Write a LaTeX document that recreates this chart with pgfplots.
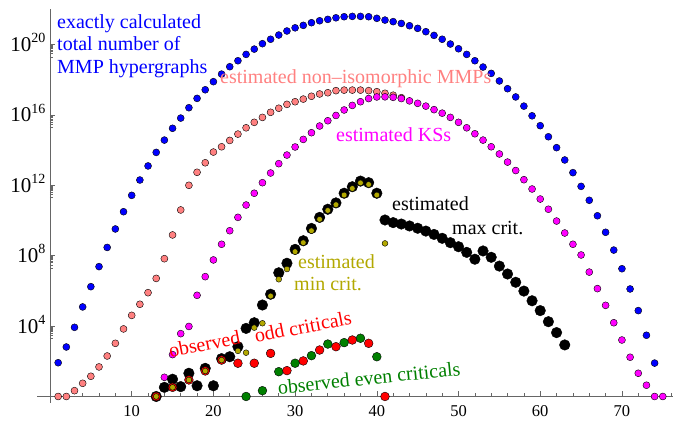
\documentclass[border=0pt]{standalone}
\usepackage{fontspec}
\setmainfont{Liberation Serif}
\usepackage{pgfplots}
\pgfplotsset{compat=1.18}
\definecolor{salmonc}{rgb}{1,0.5,0.5}
\definecolor{magc}{rgb}{1,0,1}
\definecolor{olivec}{rgb}{0.7,0.66,0}
\definecolor{greenc}{rgb}{0,0.5,0}
\definecolor{axgray}{gray}{0.4}
\newcommand{\tl}[1]{10\raisebox{0.42em}{\fontsize{14}{14}\selectfont #1}}
\begin{document}
\begin{tikzpicture}
\begin{axis}[
  at={(37pt,22pt)}, anchor=south west,
  scale only axis, width=636pt, height=394pt,
  xmin=-1.59, xmax=76.25, ymin=0.4266, ymax=1.047e22,
  ymode=log,
  axis lines=middle,
  axis line style={-, draw=axgray, line width=0.8pt},
  xtick={10,20,30,40,50,60,70},
  xticklabels={10,20,30,40,50,60,70},
  minor xtick={2,4,...,76},
  ytick={1e4,1e8,1e12,1e16,1e20},
  yticklabels={\tl{4},\tl{8},\tl{12},\tl{16},\tl{20}},
  minor ytick={2e3,3e3,4e3,5e3,6e3,7e3,8e3,9e3,2e7,3e7,4e7,5e7,6e7,7e7,8e7,9e7,2e11,3e11,4e11,5e11,6e11,7e11,8e11,9e11,2e15,3e15,4e15,5e15,6e15,7e15,8e15,9e15,2e19,3e19,4e19,5e19,6e19,7e19,8e19,9e19},
  tick align=inside,
  major tick length=5pt, minor tick length=3pt,
  tick style={draw=axgray, line width=0.6pt},
  xticklabel style={font=\fontsize{16.5}{18}\selectfont, yshift=-6pt},
  yticklabel style={font=\fontsize{21}{22}\selectfont, anchor=base east, yshift=-7pt, xshift=-1pt},
  clip=false,
]
% exactly calculated total number of MMP hypergraphs
\addplot[only marks, mark=*, mark size=3.5pt, mark options={fill=blue, draw=none}] coordinates {
(1,8.3e1) (2,6.5e2) (3,8.5e3) (4,1.23e5) (5,1.74e6) (6,2.4e7) (7,2.95e8) (8,3.31e9) (9,3.16e10) (10,2.69e11)
(11,2.0e12) (12,1.26e13) (13,7.41e13) (14,3.72e14) (15,1.74e15) (16,6.61e15) (17,2.57e16) (18,8.71e16) (19,2.69e17) (20,7.76e17)
(21,2.09e18) (22,5.5e18) (23,1.2e19) (24,2.75e19) (25,5.5e19) (26,1.12e20) (27,2.0e20) (28,3.47e20) (29,5.89e20) (30,8.91e20)
(31,1.23e21) (32,1.74e21) (33,2.24e21) (34,2.69e21) (35,3.31e21) (36,3.8e21) (37,3.98e21) (38,3.98e21) (39,3.8e21) (40,3.09e21)
(41,2.45e21) (42,2.0e21) (43,1.58e21) (44,1.17e21) (45,8.32e20) (46,5.37e20) (47,3.31e20) (48,2.0e20) (49,1.07e20) (50,5.75e19)
(51,2.75e19) (52,1.2e19) (53,5.25e18) (54,2.29e18) (55,8.51e17) (56,3.09e17) (57,1.05e17) (58,3.16e16) (59,8.91e15) (60,2.45e15)
(61,5.75e14) (62,1.38e14) (63,2.75e13) (64,5.25e12) (65,8.71e11) (66,1.41e11) (67,1.86e10) (68,2.14e9) (69,2.09e8) (70,1.82e7)
(71,1.29e6) (72,7.59e4) (73,3.02e3) (74,7.9e1)
};
% estimated non-isomorphic MMPs
\addplot[only marks, mark=*, mark size=3.5pt, mark options={fill=salmonc, draw=none}] coordinates {
(1,1) (2,1) (3,2.14) (4,5.62) (5,1.41e1) (6,4.79e1) (7,2.0e2) (8,1.05e3) (9,6.92e3) (10,4.07e4)
(11,1.74e5) (12,7.94e5) (13,5.13e6) (14,6.76e7) (15,1.51e9) (16,3.98e10) (17,1.0e12) (18,5.5e12) (19,1.91e13) (20,7.76e13)
(21,1.55e14) (22,3.55e14) (23,8.13e14) (24,1.86e15) (25,3.8e15) (26,7.24e15) (27,1.41e16) (28,2.4e16) (29,3.98e16) (30,5.62e16)
(31,7.94e16) (32,1.15e17) (33,1.55e17) (34,1.82e17) (35,2.4e17) (36,2.57e17) (37,2.57e17) (38,2.57e17) (39,2.4e17) (40,2.09e17)
(41,1.7e17) (42,1.32e17) (43,9.55e16)
};
% estimated KSs
\addplot[only marks, mark=*, mark size=3.5pt, mark options={fill=magc, draw=none}] coordinates {
(14,1.23e1) (15,2.4e2) (16,3.72e3) (17,9.55e3) (18,5.62e5) (19,6.46e6) (20,5.75e7)
(21,4.47e8) (22,2.63e9) (23,1.51e10) (24,7.59e10) (25,3.55e11) (26,1.41e12) (27,5.01e12) (28,1.7e13) (29,5.25e13) (30,1.51e14)
(31,4.07e14) (32,9.77e14) (33,2.34e15) (34,4.68e15) (35,9.33e15) (36,1.91e16) (37,3.47e16) (38,5.62e16) (39,8.51e16) (40,1.05e17)
(41,1.07e17) (42,1.0e17) (43,8.51e16) (44,6.31e16) (45,4.57e16) (46,3.16e16) (47,2.0e16) (48,1.26e16) (49,7.24e15) (50,3.8e15)
(51,1.86e15) (52,8.51e14) (53,3.72e14) (54,1.55e14) (55,6.03e13) (56,2.09e13) (57,6.92e12) (58,2.09e12) (59,6.17e11) (60,1.66e11)
(61,4.37e10) (62,9.33e9) (63,1.95e9) (64,4.47e8) (65,1.1e8) (66,1.17e7) (67,1.35e6) (68,1.51e5) (69,1.55e4) (70,1.62e3)
(71,1.7e2) (72,2.09e1) (73,4.37) (74,1) (75,1)
};
% estimated max crit.
\addplot[only marks, mark=*, mark size=5.3pt, mark options={fill=black, draw=none}] coordinates {
(13,1) (14,3.31) (15,9.55) (16,3.63) (17,2.09e1) (18,4.07) (19,3.98e1) (20,4.07)
(21,1.41e2) (22,1.82e2) (23,6.76e2) (24,7.41e3) (25,1.55e4) (26,1.58e5) (27,6.46e5) (28,1.07e7) (29,3.72e7) (30,2.29e8)
(31,7.08e8) (32,3.55e9) (33,1.51e10) (34,4.37e10) (35,1.0e11) (36,3.55e11) (37,8.32e11) (38,1.74e12) (39,1.41e12) (40,3.55e11)
(41,1.07e10) (42,7.59e9) (43,6.31e9) (44,4.9e9) (45,3.63e9) (46,2.51e9) (47,1.62e9) (48,9.77e8) (49,5.5e8) (50,3.24e8)
(51,1.55e8) (52,6.31e7) (53,1.86e8) (54,8.13e7) (55,2.57e7) (56,9.12e6) (57,3.09e6) (58,9.77e5) (59,2.75e5) (60,7.59e4)
(61,1.78e4) (62,4.27e3) (63,8.51e2)
};
% observed even criticals
\addplot[only marks, mark=*, mark size=4.4pt, mark options={fill=greenc, draw=none}] coordinates {
(24,1) (26,2.14) (28,2.57e1) (30,7.76e1) (32,2.09e2) (34,9.55e2) (36,1.15e3) (38,2.04e3) (40,1.82e2)
};
% observed odd criticals
\addplot[only marks, mark=*, mark size=4.4pt, mark options={fill=red, draw=none}] coordinates {
(13,1) (15,3.31) (17,8.71) (19,2.82e1) (21,1.17e2) (23,7.76e1) (25,7.76e1) (27,2.82e2) (29,2.95e1)
(31,1.05e2) (33,4.37e2) (35,6.76e2) (37,1.62e3) (39,1.05e3) (41,1)
};
% estimated min crit.
\addplot[only marks, mark=*, mark size=2.9pt, mark options={fill=olivec, draw=none}] coordinates {
(13,1) (15,3.31) (17,8.71) (19,2.82e1) (21,1.17e2) (23,3.89e2) (24,3.09e2) (25,8.13e3) (26,1.45e4) (27,5.13e5)
(28,4.57e6) (29,1.74e7) (30,1.7e8) (31,5.5e8) (32,2.63e9) (33,1.17e10) (34,3.72e10) (35,7.94e10) (36,2.82e11) (37,6.61e11)
(38,1.38e12) (39,1.12e12) (40,2.82e11) (41,5.01e8)
};
\end{axis}
\begin{scope}[every node/.style={inner sep=0pt, font=\fontsize{20}{24}\selectfont}]
\node[anchor=base west, text=blue] at (57pt,396.5pt) {exactly calculated};
\node[anchor=base west, text=blue] at (57pt,374pt) {total number of};
\node[anchor=base west, text=blue] at (57pt,351.5pt) {MMP hypergraphs};
\node[anchor=base west, text=salmonc] at (220pt,341pt) {estimated non--isomorphic MMPs};
\node[anchor=base west, text=magc] at (336pt,283pt) {estimated KSs};
\node[anchor=base west, text=black] at (392pt,214pt) {estimated};
\node[anchor=base west, text=black] at (452pt,190.7pt) {max crit.};
\node[anchor=base west, text=olivec] at (298pt,156.7pt) {estimated};
\node[anchor=base west, text=olivec] at (294pt,134.3pt) {min crit.};
\node[rotate=11, text=red] at (204.5pt,81pt) {observed};
\node[rotate=11, text=red] at (303pt,98.3pt) {odd criticals};
\node[rotate=6, text=greenc] at (369pt,47pt) {observed even criticals};
\end{scope}
\pgfresetboundingbox
\path[use as bounding box] (0,0) rectangle (674pt,425pt);
\end{tikzpicture}
\end{document}
